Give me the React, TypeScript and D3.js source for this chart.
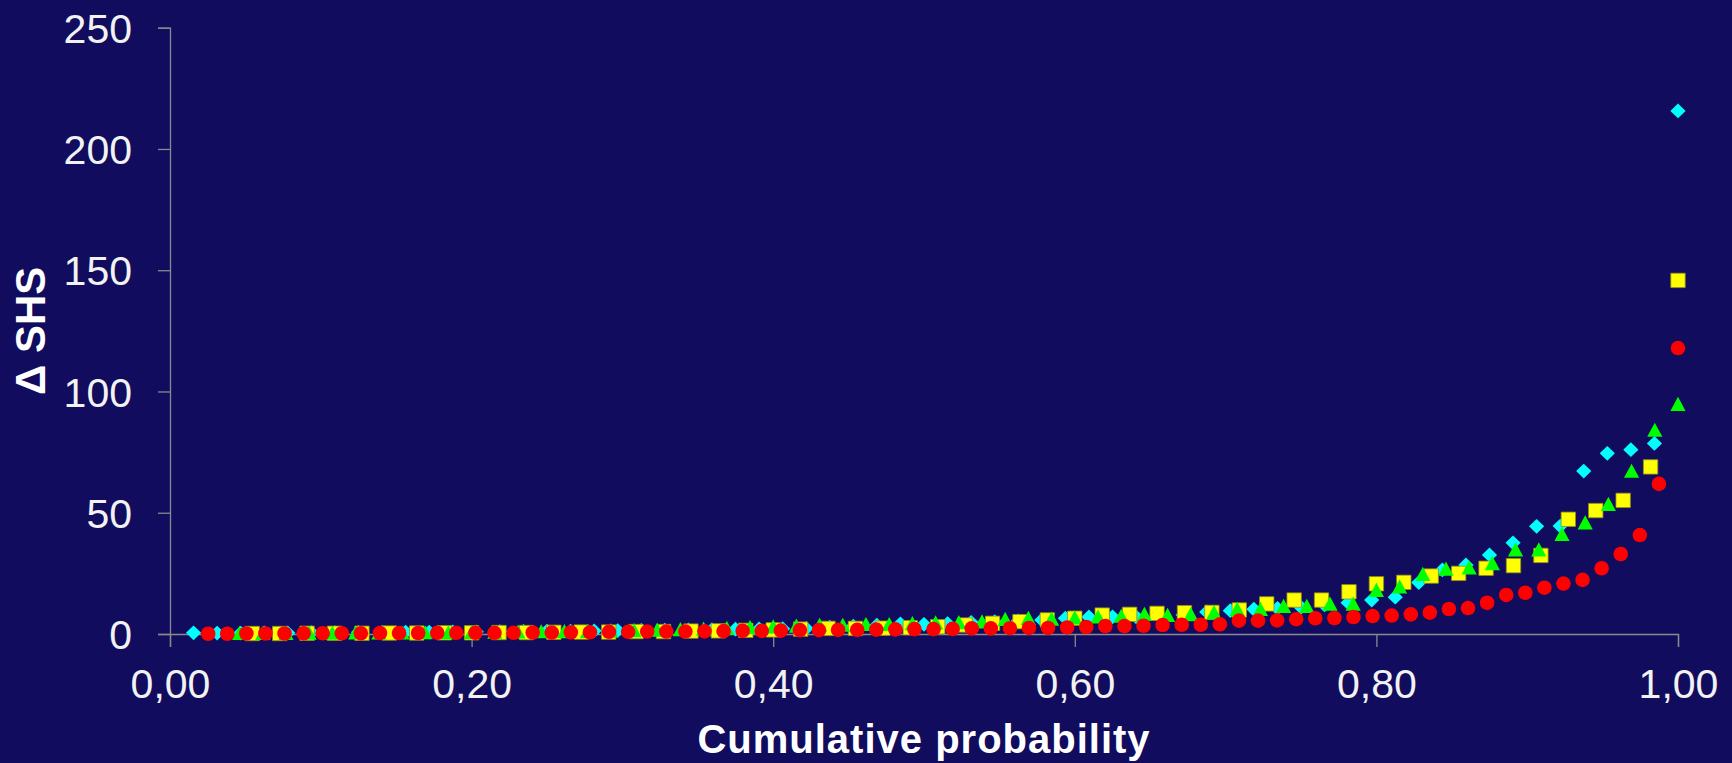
import React, { useEffect, useRef } from "react";
import * as d3 from "d3";

// Delta SHS values, ordered by rank (cumulative probability = rank / n)
const cyanValues = [
  0.5, 0.4, 0.4, 0.5, 0.5, 0.6, 0.6, 0.7, 0.7, 0.8, 0.8, 0.9, 0.9, 1.0, 1.1, 1.2, 1.2, 1.3, 1.4, 1.5, 1.6, 1.7, 1.8, 2.0, 2.1, 2.2,
  2.3, 2.8, 3.2, 3.6, 4.2, 4.0, 4.3, 4.8, 5.1, 5.4, 5.8, 6.5, 7.0,
  7.1, 7.1, 7.5, 7.8, 9.1, 9.6, 10.2, 10.6, 11.0, 12.0, 12.9, 14.0, 15.2,
  21.2, 26.4, 28.5, 32.6, 37.6, 44.4, 44.5, 67.2, 74.5, 76.0, 78.6, 215.7,
];
// yellow series starts at rank 3 of 55
const yellowValues = [
  0.2, 0.2, 0.3, 0.3, 0.3, 0.4, 0.4, 0.5, 0.5, 0.6, 0.6, 0.7, 0.8, 0.8, 1.0, 1.0, 1.2, 1.3, 1.5, 1.7,
  2.0, 2.3, 2.3, 2.4, 2.6, 3.0, 3.7, 4.4, 5.1, 5.8, 6.5,
  7.8, 8.1, 8.5, 8.8, 8.9, 9.9, 12.4, 14.0, 14.0, 17.4, 20.7, 21.3,
  23.9, 25.0, 27.1, 28.2, 32.4, 47.3, 50.9, 55.1, 68.9, 145.8,
];
// green series starts at rank 3 of 65
const greenValues = [
  0.3, 0.3, 0.3, 0.4, 0.4, 0.5, 0.5, 0.5, 0.6, 0.6, 0.7, 0.8, 0.9, 1.0, 1.1, 1.2, 1.4, 1.5, 1.7, 1.9, 2.1, 2.4, 2.7, 3.0, 3.3,
  3.7, 3.7, 4.0, 4.0, 4.4, 4.7, 4.8, 5.1, 6.1, 6.5, 6.2, 6.7, 7.1,
  7.4, 8.2, 7.8, 8.1, 8.9, 10.2, 10.2, 11.5, 11.5, 12.4, 12.4, 18.1, 19.5,
  24.7, 26.8, 27.3, 29.1, 34.8, 34.8, 41.1, 45.9, 53.5, 67.2, 84.1, 94.8,
];
// red series starts at rank 2 of 79
const redValues = [
  0.1, 0.1, 0.2, 0.2, 0.2, 0.3, 0.3, 0.3, 0.3, 0.4, 0.4, 0.4, 0.5, 0.5, 0.5,
  0.5, 0.5, 0.6, 0.6, 0.7, 0.7, 0.9, 0.9, 1.0, 1.0, 1.0, 1.1, 1.2, 1.3, 1.3, 1.4,
  1.6, 1.6, 1.7, 1.7, 1.8, 1.9, 2.0, 2.0, 2.1, 2.3, 2.3, 2.4, 2.5, 2.5, 2.7, 2.9,
  3.3, 3.3, 3.4, 3.7, 3.8, 3.8, 4.0, 5.5, 5.5, 5.6, 6.1, 6.5, 6.6, 7.0, 7.4, 7.6,
  8.1, 8.8, 10.3, 10.7, 12.9, 16.1, 17.0, 19.1, 20.8, 22.3, 27.1, 33.0, 40.8, 61.9, 117.9,
];

const xTicks = [0, 0.2, 0.4, 0.6, 0.8, 1.0];
const yTicks = [0, 50, 100, 150, 200, 250];

const series = [
  { name: "cyan", values: cyanValues, n: 64, start: 1, color: "#00ffff", shape: "diamond" },
  { name: "yellow", values: yellowValues, n: 55, start: 3, color: "#ffff00", shape: "square" },
  { name: "green", values: greenValues, n: 65, start: 3, color: "#00ff00", shape: "triangle" },
  { name: "red", values: redValues, n: 79, start: 2, color: "#ff0000", shape: "circle" },
];

const W = 1732;
const H = 763;
const margin = { top: 27.7, right: 54, bottom: 129, left: 170 };
const FONT = "'Liberation Sans', Arial, Helvetica, sans-serif";

const markerPath = {
  diamond: "M0,-7.4L7.6,0L0,7.4L-7.6,0Z",
  square: "M-7.2,-7.2H7.2V7.2H-7.2Z",
  triangle: "M0,-7.4L7.6,6.8L-7.6,6.8Z",
};

const App = () => {
  const svgRef = useRef(null);

  useEffect(() => {
    const svg = d3.select(svgRef.current);
    svg.selectAll("*").remove();

    const x = d3.scaleLinear().domain([0, 1]).range([margin.left, W - margin.right]);
    const y = d3.scaleLinear().domain([0, 250]).range([H - margin.bottom, margin.top]);

    svg.append("rect").attr("width", W).attr("height", H).attr("fill", "#110c5e");

    const axisColor = "#8a8a8a";

    // x axis
    const gx = svg
      .append("g")
      .attr("transform", `translate(0,${y(0)})`)
      .call(
        d3.axisBottom(x)
          .tickValues(xTicks)
          .tickSize(13)
          .tickFormat((d) => d3.format(".2f")(d).replace(".", ","))
      );
    gx.select(".domain").attr("stroke", axisColor).attr("stroke-width", 1.3);
    gx.selectAll(".tick line").attr("stroke", axisColor).attr("stroke-width", 1.3);
    gx.selectAll(".tick text")
      .attr("y", 64)
      .attr("dy", 0)
      .attr("fill", "#f2f2f2")
      .attr("font-family", FONT)
      .attr("font-size", 41);

    // y axis
    const gy = svg
      .append("g")
      .attr("transform", `translate(${x(0)},0)`)
      .call(d3.axisLeft(y).tickValues(yTicks).tickSize(12));
    gy.select(".domain").attr("stroke", axisColor).attr("stroke-width", 1.3);
    gy.selectAll(".tick line").attr("stroke", axisColor).attr("stroke-width", 1.3);
    gy.selectAll(".tick text")
      .attr("x", -38)
      .attr("dy", "0.36em")
      .attr("fill", "#f2f2f2")
      .attr("font-family", FONT)
      .attr("font-size", 41);
    svg.selectAll(".domain").attr("fill", "none");

    // axis titles
    svg
      .append("text")
      .attr("x", (x(0) + x(1)) / 2)
      .attr("y", 752.5)
      .attr("text-anchor", "middle")
      .attr("fill", "#ffffff")
      .attr("font-family", FONT)
      .attr("font-weight", "bold")
      .attr("font-size", 40)
      .attr("letter-spacing", 1)
      .text("Cumulative probability");

    svg
      .append("text")
      .attr("transform", `translate(45,${(y(0) + y(250)) / 2}) rotate(-90)`)
      .attr("text-anchor", "middle")
      .attr("fill", "#ffffff")
      .attr("font-family", FONT)
      .attr("font-weight", "bold")
      .attr("font-size", 42)
      .text("\u0394 SHS");

    // points
    series.forEach((s) => {
      const pts = s.values.map((v, i) => ({ p: (i + s.start) / s.n, v }));
      const g = svg.append("g");
      const sel = g
        .selectAll("path, circle")
        .data(pts)
        .join(s.shape === "circle" ? "circle" : "path");
      if (s.shape === "circle") {
        sel
          .attr("cx", (d) => x(d.p))
          .attr("cy", (d) => y(d.v))
          .attr("r", 7.3)
          .attr("fill", s.color);
      } else {
        sel
          .attr("transform", (d) => `translate(${x(d.p)},${y(d.v)})`)
          .attr("d", markerPath[s.shape])
          .attr("fill", s.color);
        if (s.shape === "square") sel.attr("stroke", "#8f8f18").attr("stroke-width", 0.8);
      }
    });
  }, []);

  return (
    <div style={{ position: "fixed", left: 0, top: 0 }}>
      <svg ref={svgRef} width={W} height={H} style={{ display: "block" }} />
    </div>
  );
};

export default App;
